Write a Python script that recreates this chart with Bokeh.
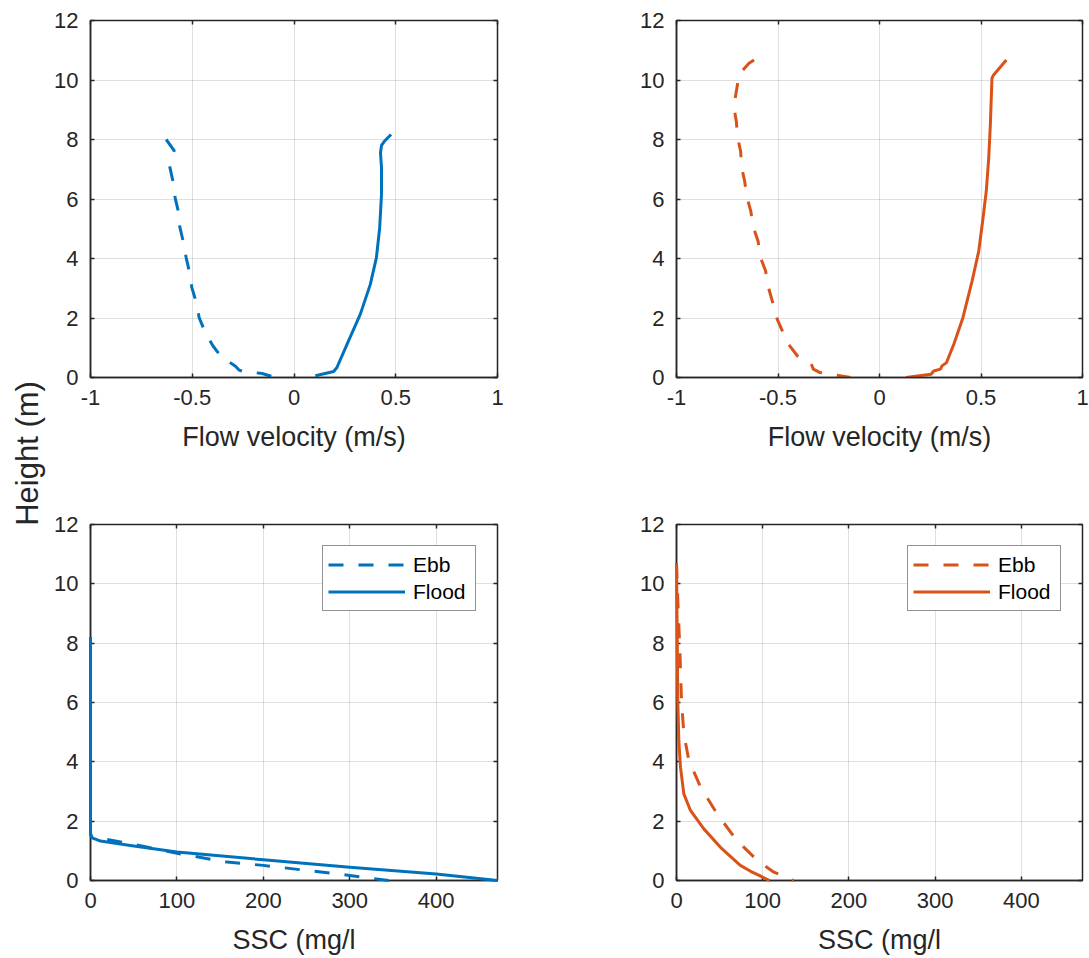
from math import pi
from bokeh.plotting import figure
from bokeh.models import Range1d, FixedTicker, LinearAxis, Label, CustomJSTickFormatter
from bokeh.layouts import row, column
from bokeh.embed import file_html
from bokeh.resources import INLINE

# ---------------- data ----------------
vel_ticks = [-1, -0.5, 0, 0.5, 1]
vel_tick_labels = ["-1", "-0.5", "0", "0.5", "1"]
ssc_ticks = [0, 100, 200, 300, 400]
ssc_tick_labels = ["0", "100", "200", "300", "400"]
height_ticks = [0, 2, 4, 6, 8, 10, 12]
height_tick_labels = ["0", "2", "4", "6", "8", "10", "12"]

# Station A (blue) velocity profiles
velA_ebb = [-0.628, -0.589, -0.611, -0.595, -0.584, -0.567, -0.562, -0.543, -0.530, -0.513,
            -0.502, -0.480, -0.466, -0.436, -0.398, -0.354, -0.289, -0.270, -0.248, -0.200,
            -0.157, -0.092]
zA_ebb = [8.00, 7.63, 7.10, 6.60, 6.04, 5.54, 5.09, 4.53, 4.03, 3.52,
          3.02, 2.52, 2.01, 1.51, 1.06, 0.67, 0.39, 0.25, 0.20, 0.17,
          0.134, 0.0]
velA_flood = [0.105, 0.195, 0.211, 0.261, 0.326, 0.375, 0.405, 0.421, 0.430, 0.430,
              0.425, 0.430, 0.444, 0.477]
zA_flood = [0.056, 0.20, 0.336, 1.12, 2.13, 3.13, 4.03, 5.03, 6.15, 7.05,
            7.55, 7.80, 7.94, 8.17]

# Station B (orange) velocity profiles
velB_ebb = [-0.618, -0.643, -0.695, -0.700, -0.718, -0.705, -0.700, -0.684, -0.680, -0.664,
            -0.654, -0.634, -0.623, -0.598, -0.589, -0.561, -0.549, -0.528, -0.511, -0.482,
            -0.451, -0.405, -0.336, -0.326, -0.295, -0.216, -0.143]
zB_ebb = [10.67, 10.56, 10.17, 9.83, 9.11, 8.60, 8.10, 7.60, 7.09, 6.59,
          6.09, 5.59, 5.08, 4.58, 4.08, 3.58, 3.07, 2.57, 2.07, 1.62,
          1.14, 0.73, 0.45, 0.28, 0.17, 0.08, 0.0]
velB_flood = [0.131, 0.254, 0.267, 0.300, 0.308, 0.330, 0.366, 0.411, 0.456, 0.489,
              0.508, 0.526, 0.538, 0.546, 0.554, 0.562, 0.625]
zB_flood = [0.0, 0.11, 0.22, 0.28, 0.39, 0.50, 1.12, 2.01, 3.24, 4.25,
            5.25, 6.26, 7.37, 8.49, 10.06, 10.17, 10.67]

# Station A (blue) SSC profiles
sscA_ebb = [0, 0, 0.5, 2, 13.5, 46, 100, 158, 200, 300, 345]
zA_ssc_ebb = [8.00, 1.60, 1.50, 1.45, 1.41, 1.24, 0.92, 0.62, 0.51, 0.17, 0.0]
sscA_flood = [0, 0, 1.9, 11.6, 46, 100, 200, 300, 400, 471]
zA_ssc_flood = [8.21, 1.57, 1.44, 1.33, 1.18, 0.96, 0.70, 0.45, 0.22, 0.0]

# Station B (orange) SSC profiles
sscB_ebb = [0, 1.5, 3.9, 5.8, 8.5, 14.3, 27.9, 47, 70, 94, 113, 136]
zB_ssc_ebb = [10.69, 9.45, 7.76, 6.07, 4.95, 4.05, 3.15, 2.25, 1.35, 0.67, 0.28, 0.0]
sscB_flood = [0, 0.8, 1.5, 2.7, 4.6, 8.5, 16.2, 31.7, 51, 74, 86, 108]
zB_ssc_flood = [10.69, 8.32, 6.07, 4.72, 3.82, 2.92, 2.36, 1.74, 1.12, 0.51, 0.31, 0.0]

vel_range = (-1, 1)
ssc_range = (0, 471)
height_range = (0, 12)

BLUE = "#0072BD"
ORANGE = "#D95319"
INK = "#262626"
FONT = "Liberation Sans"
TICK_FS = "22px"
LABEL_FS = "27px"
LW = 3
DASH = "15 15"


def make_fig(width, height, xr, yr, borders, xticks, xlabels, xlabel):
    l, r, t, b = borders
    p = figure(width=width, height=height, x_range=Range1d(*xr), y_range=Range1d(*yr),
               min_border_left=l, min_border_right=r, min_border_top=t, min_border_bottom=b,
               output_backend="svg", toolbar_location=None, title=None)
    p.background_fill_color = "white"
    p.border_fill_color = "white"
    p.outline_line_color = INK
    p.outline_line_width = 1.5

    p.xaxis.ticker = FixedTicker(ticks=xticks)
    p.xaxis.major_label_overrides = dict(zip(xticks, xlabels))
    p.yaxis.ticker = FixedTicker(ticks=height_ticks)
    p.yaxis.major_label_overrides = dict(zip(height_ticks, height_tick_labels))
    for ax in (p.xaxis[0], p.yaxis[0]):
        ax.major_tick_in = 4
        ax.major_tick_out = 0
        ax.minor_tick_line_color = None
        ax.major_tick_line_color = INK
        ax.major_tick_line_width = 1.5
        ax.axis_line_color = INK
        ax.axis_line_width = 1.5
        ax.major_label_text_font = FONT
        ax.major_label_text_font_size = TICK_FS
        ax.major_label_text_color = INK
        ax.axis_label_text_font = FONT
        ax.axis_label_text_font_size = LABEL_FS
        ax.axis_label_text_font_style = "normal"
        ax.axis_label_text_color = INK
    p.xaxis.major_label_standoff = 12
    p.yaxis.major_label_standoff = 12
    p.xaxis.axis_label = xlabel
    p.xaxis.axis_label_standoff = 14

    p.grid.grid_line_color = INK
    p.grid.grid_line_alpha = 0.15
    p.grid.grid_line_width = 1

    # box ticks on top and right
    for side, ticks in (("above", xticks), ("right", height_ticks)):
        ax = LinearAxis(ticker=FixedTicker(ticks=ticks),
                        formatter=CustomJSTickFormatter(code="return ''"),
                        major_tick_in=4, major_tick_out=0, major_label_standoff=0,
                        major_label_text_font_size="1px",
                        minor_tick_line_color=None, axis_line_color=None,
                        major_tick_line_color=INK, major_tick_line_width=1.5)
        p.add_layout(ax, side)
    return p


# geometry (frames placed at the reference's image coordinates)
LBL_W = 48
TOTAL_H = 957
TL = make_fig(578, 477, vel_range, height_range, (42, 129, 20, 100),
              vel_ticks, vel_tick_labels, "Flow velocity (m/s)")
TR = make_fig(463, 477, vel_range, height_range, (50, 7, 20, 100),
              vel_ticks, vel_tick_labels, "Flow velocity (m/s)")
BL = make_fig(578, 480, ssc_range, height_range, (42, 129, 47, 77),
              ssc_ticks, ssc_tick_labels, "SSC (mg/l")
BR = make_fig(463, 480, ssc_range, height_range, (50, 7, 47, 77),
              ssc_ticks, ssc_tick_labels, "SSC (mg/l")

kw = dict(line_width=LW, line_join="round")
TL.line(velA_ebb, zA_ebb, line_color=BLUE, line_dash=DASH, **kw)
TL.line(velA_flood, zA_flood, line_color=BLUE, **kw)
TR.line(velB_ebb, zB_ebb, line_color=ORANGE, line_dash=DASH, **kw)
TR.line(velB_flood, zB_flood, line_color=ORANGE, **kw)
kw_ov = dict(kw, level="overlay")
BL.line(sscA_ebb, zA_ssc_ebb, line_color=BLUE, line_dash=DASH, legend_label="Ebb", **kw_ov)
BL.line(sscA_flood, zA_ssc_flood, line_color=BLUE, legend_label="Flood", **kw_ov)
BR.line(sscB_ebb, zB_ssc_ebb, line_color=ORANGE, line_dash=DASH, legend_label="Ebb", **kw_ov)
BR.line(sscB_flood, zB_ssc_flood, line_color=ORANGE, legend_label="Flood", **kw_ov)

for p in (BL, BR):
    lg = p.legend[0]
    lg.location = "top_right"
    lg.margin = 21
    lg.padding = 5
    lg.spacing = 0
    lg.glyph_width = 77
    lg.glyph_height = 27
    lg.label_height = 27
    lg.label_width = 57
    lg.label_standoff = 8
    lg.label_text_font = FONT
    lg.label_text_font_size = "21px"
    lg.label_text_color = "black"
    lg.border_line_color = INK
    lg.border_line_width = 1
    lg.background_fill_color = "white"
    lg.background_fill_alpha = 1.0

# shared y label
lab = figure(width=LBL_W, height=TOTAL_H, x_axis_type=None, y_axis_type=None,
             min_border=0, output_backend="svg", toolbar_location=None, title=None)
lab.outline_line_color = None
lab.grid.visible = False
lab.add_layout(Label(x=27, y=TOTAL_H - 453, x_units="screen", y_units="screen",
                     text="Height (m)", angle=pi / 2, text_align="center",
                     text_baseline="middle", text_font=FONT, text_font_size="31px",
                     text_color=INK))

layout = row(lab, column(row(TL, TR), row(BL, BR)))
open("out.html", "w").write(file_html(layout, INLINE))
